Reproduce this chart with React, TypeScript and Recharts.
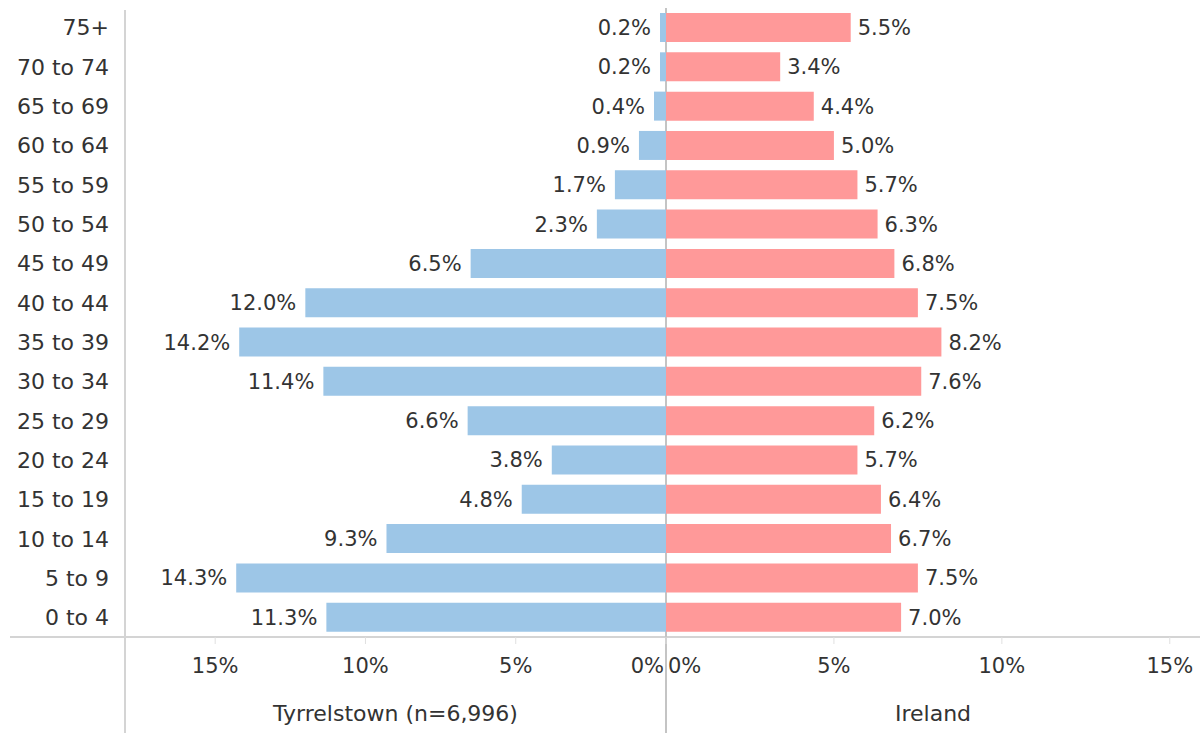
import { BarChart, Bar, XAxis, YAxis, LabelList, Label } from "recharts"

const ageGroups = [
  "75+", "70 to 74", "65 to 69", "60 to 64", "55 to 59", "50 to 54", "45 to 49", "40 to 44",
  "35 to 39", "30 to 34", "25 to 29", "20 to 24", "15 to 19", "10 to 14", "5 to 9", "0 to 4",
]
const tyrrelstown = [0.2, 0.2, 0.4, 0.9, 1.7, 2.3, 6.5, 12.0, 14.2, 11.4, 6.6, 3.8, 4.8, 9.3, 14.3, 11.3]
const ireland = [5.5, 3.4, 4.4, 5.0, 5.7, 6.3, 6.8, 7.5, 8.2, 7.6, 6.2, 5.7, 6.4, 6.7, 7.5, 7.0]
const pctTicks = [0, 5, 10, 15]

const data = ageGroups.map((age, i) => ({ age, tyrrelstown: tyrrelstown[i], ireland: ireland[i] }))

const FONT = "'DejaVu Sans', sans-serif"
const TEXT = "#333333"
const LINE = "#d4d4d4"

const fmt = (v: number) => `${v.toFixed(1)}%`

// label drawn just outside the bar end, on whichever side the bar grows
const barLabel = (side: "left" | "right") => (props: any) => {
  const { x, y, width, height, value } = props
  const left = Math.min(x, x + width)
  const right = Math.max(x, x + width)
  const tx = side === "left" ? left - 9 : right + 7
  return (
    <text
      x={tx}
      y={y + height / 2}
      dy="0.36em"
      textAnchor={side === "left" ? "end" : "start"}
      fill={TEXT}
      fontSize={21}
      fontFamily={FONT}
    >
      {fmt(value)}
    </text>
  )
}

const pctTick = (side: "left" | "right") => (props: any) => {
  const { x, y, payload } = props
  let anchor: "middle" | "end" | "start" = "middle"
  let dx = 0
  if (payload.value === 0) {
    anchor = side === "left" ? "end" : "start"
    dx = side === "left" ? -2 : 2
  }
  return (
    <text x={x + dx} y={y} dy="0.71em" textAnchor={anchor} fill={TEXT} fontSize={21} fontFamily={FONT}>
      {`${payload.value}%`}
    </text>
  )
}

const line = (style: React.CSSProperties) => (
  <div style={{ position: "absolute", background: LINE, ...style }} />
)

export default function App() {
  return (
    <div style={{ position: "fixed", left: 0, top: 0, width: 1200, height: 733, background: "#fff", overflow: "hidden" }}>
      {line({ left: 124, top: 10, width: 2, height: 723 })}
      {line({ left: 10, top: 636, width: 1190, height: 2 })}
      {line({ left: 665, top: 8, width: 2, height: 725, background: "#c4c4c4" })}

      <div style={{ position: "absolute", left: 0, top: 0 }}>
        <BarChart
          layout="vertical"
          width={666}
          height={733}
          data={data}
          margin={{ top: 8, right: 0, left: 0, bottom: 0 }}
        >
          <YAxis
            type="category"
            dataKey="age"
            width={125}
            axisLine={false}
            tickLine={false}
            tickMargin={10}
            tick={{ fill: TEXT, fontSize: 22, fontFamily: FONT }}
          />
          <XAxis
            type="number"
            domain={[0, 18]}
            reversed
            ticks={pctTicks}
            interval={0}
            height={96}
            axisLine={false}
            tickSize={7}
            tickMargin={14}
            tickLine={{ stroke: "#e0e0e0" }}
            tick={pctTick("left")}
          >
            <Label
              value="Tyrrelstown (n=6,996)"
              position="insideBottom"
              offset={12}
              fill={TEXT}
              fontSize={22}
              fontFamily={FONT}
            />
          </XAxis>
          <Bar dataKey="tyrrelstown" fill="#9dc6e7" barSize={29} isAnimationActive={false}>
            <LabelList dataKey="tyrrelstown" content={barLabel("left")} />
          </Bar>
        </BarChart>
      </div>

      <div style={{ position: "absolute", left: 666, top: 0 }}>
        <BarChart
          layout="vertical"
          width={534}
          height={733}
          data={data}
          margin={{ top: 8, right: 0, left: 0, bottom: 0 }}
        >
          <YAxis type="category" dataKey="age" hide />
          <XAxis
            type="number"
            domain={[0, 15.9]}
            ticks={pctTicks}
            interval={0}
            height={96}
            axisLine={false}
            tickSize={7}
            tickMargin={14}
            tickLine={{ stroke: "#e0e0e0" }}
            tick={pctTick("right")}
          >
            <Label value="Ireland" position="insideBottom" offset={12} fill={TEXT} fontSize={22} fontFamily={FONT} />
          </XAxis>
          <Bar dataKey="ireland" fill="#ff9999" barSize={29} isAnimationActive={false}>
            <LabelList dataKey="ireland" content={barLabel("right")} />
          </Bar>
        </BarChart>
      </div>
    </div>
  )
}
